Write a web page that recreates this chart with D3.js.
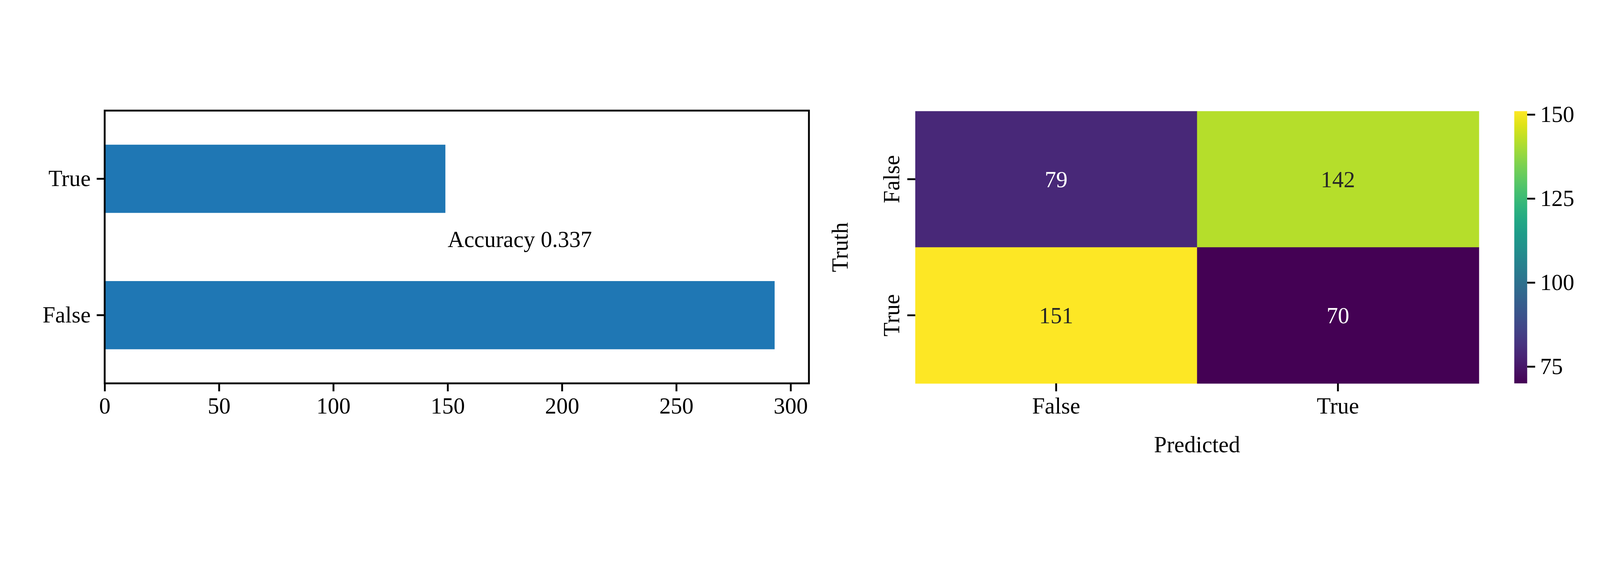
<!DOCTYPE html>
<html><head><meta charset="utf-8">
<script src="https://cdn.jsdelivr.net/npm/d3@7"></script>
<style>html,body{margin:0;width:100%;height:100%;overflow:hidden;background:#fff}svg{display:block}text{font-family:"Liberation Serif",serif}</style>
</head><body><svg id="c" width="100%" height="100%" viewBox="0 0 5823 1448"></svg>
<script>
// bar chart data
const barCats = ["False", "True"];
const barVals = [293, 149];
const barTicks = [0, 50, 100, 150, 200, 250, 300];
const accuracy = 0.337;
// confusion matrix
const classes = ["False", "True"];
const matrix = [[79, 142], [151, 70]];
const cbTicks = [75, 100, 125, 150];

const svg = d3.select("#c");
const fs = 83, tickLen = 29, lw = 6.7;

// ---- left: horizontal bars
const L = {x0: 381, x1: 2944, y0: 97, y1: 1089};
const x = d3.scaleLinear().domain([0, 308]).range([L.x0, L.x1]);
const y = d3.scaleBand().domain(barCats).range([L.y1, L.y0]).paddingInner(0.5).paddingOuter(0.25);

svg.append("g").selectAll("rect").data(barCats).join("rect")
  .attr("x", x(0)).attr("y", d => y(d))
  .attr("width", (d, i) => x(barVals[i]) - x(0)).attr("height", y.bandwidth())
  .attr("fill", "#1f77b4");

svg.append("text").attr("x", x(150)).attr("y", (L.y0 + L.y1) / 2)
  .attr("font-size", fs).text("Accuracy " + accuracy);

svg.append("rect").attr("x", L.x0).attr("y", L.y0).attr("width", L.x1 - L.x0).attr("height", L.y1 - L.y0)
  .attr("fill", "none").attr("stroke", "#000").attr("stroke-width", lw);

const xa = svg.append("g").attr("transform", `translate(0,${L.y1})`)
  .call(d3.axisBottom(x).tickValues(barTicks).tickSize(tickLen).tickPadding(22));
const ya = svg.append("g").attr("transform", `translate(${L.x0},0)`)
  .call(d3.axisLeft(y).tickSize(tickLen).tickPadding(22));
[xa, ya].forEach(a => {
  a.select(".domain").remove();
  a.selectAll("line").attr("stroke-width", lw);
  a.selectAll("text").attr("font-size", fs).attr("font-family", "Liberation Serif");
});

// ---- right: heatmap
const H = {x0: 3331, x1: 5382, y0: 99, y1: 1089};
const hx = d3.scaleBand().domain(classes).range([H.x0, H.x1]);
const hy = d3.scaleBand().domain(classes).range([H.y0, H.y1]);
const color = d3.scaleSequential(d3.interpolateViridis).domain([70, 151]);
const cells = [];
classes.forEach((r, i) => classes.forEach((c, j) => cells.push({r, c, v: matrix[i][j]})));
const hg = svg.append("g");
hg.selectAll("rect").data(cells).join("rect")
  .attr("x", d => hx(d.c)).attr("y", d => hy(d.r))
  .attr("width", hx.bandwidth() + 1).attr("height", hy.bandwidth() + 1)
  .attr("fill", d => color(d.v));
hg.selectAll("text").data(cells).join("text")
  .attr("x", d => hx(d.c) + hx.bandwidth() / 2).attr("y", d => hy(d.r) + hy.bandwidth() / 2)
  .attr("dy", "0.35em").attr("text-anchor", "middle").attr("font-size", fs)
  .attr("fill", d => d3.lab(color(d.v)).l > 50 ? "#262626" : "#fff").text(d => d.v);

const hxa = svg.append("g").attr("transform", `translate(0,${H.y1})`)
  .call(d3.axisBottom(hx).tickSize(tickLen).tickPadding(22));
const hya = svg.append("g").attr("transform", `translate(${H.x0},0)`)
  .call(d3.axisLeft(hy).tickSize(tickLen).tickPadding(22));
[hxa, hya].forEach(a => {
  a.select(".domain").remove();
  a.selectAll("line").attr("stroke-width", lw);
  a.selectAll("text").attr("font-size", fs).attr("font-family", "Liberation Serif");
});
hya.selectAll("text").attr("x", 0).attr("dy", 0).attr("text-anchor", "middle")
  .attr("transform", `translate(${-tickLen - 30},0) rotate(-90)`);

svg.append("text").attr("x", (H.x0 + H.x1) / 2).attr("y", 1340).attr("text-anchor", "middle")
  .attr("font-size", fs).text("Predicted");
svg.append("text").attr("transform", `translate(3085,${(H.y0 + H.y1) / 2}) rotate(-90)`)
  .attr("text-anchor", "middle").attr("font-size", fs).text("Truth");

// colorbar
const C = {x0: 5511, x1: 5558};
const cy = d3.scaleLinear().domain([70, 151]).range([H.y1, H.y0]);
const grad = svg.append("defs").append("linearGradient").attr("id", "g")
  .attr("x1", 0).attr("y1", 1).attr("x2", 0).attr("y2", 0);
d3.range(0, 1.0001, 0.05).forEach(t => grad.append("stop").attr("offset", t)
  .attr("stop-color", d3.interpolateViridis(t)));
svg.append("rect").attr("x", C.x0).attr("y", H.y0).attr("width", C.x1 - C.x0)
  .attr("height", H.y1 - H.y0).attr("fill", "url(#g)");
const ca = svg.append("g").attr("transform", `translate(${C.x1},0)`)
  .call(d3.axisRight(cy).tickValues(cbTicks).tickSize(tickLen).tickPadding(18));
ca.select(".domain").remove();
ca.selectAll("line").attr("stroke-width", lw);
ca.selectAll("text").attr("font-size", fs).attr("font-family", "Liberation Serif");
</script></body></html>
